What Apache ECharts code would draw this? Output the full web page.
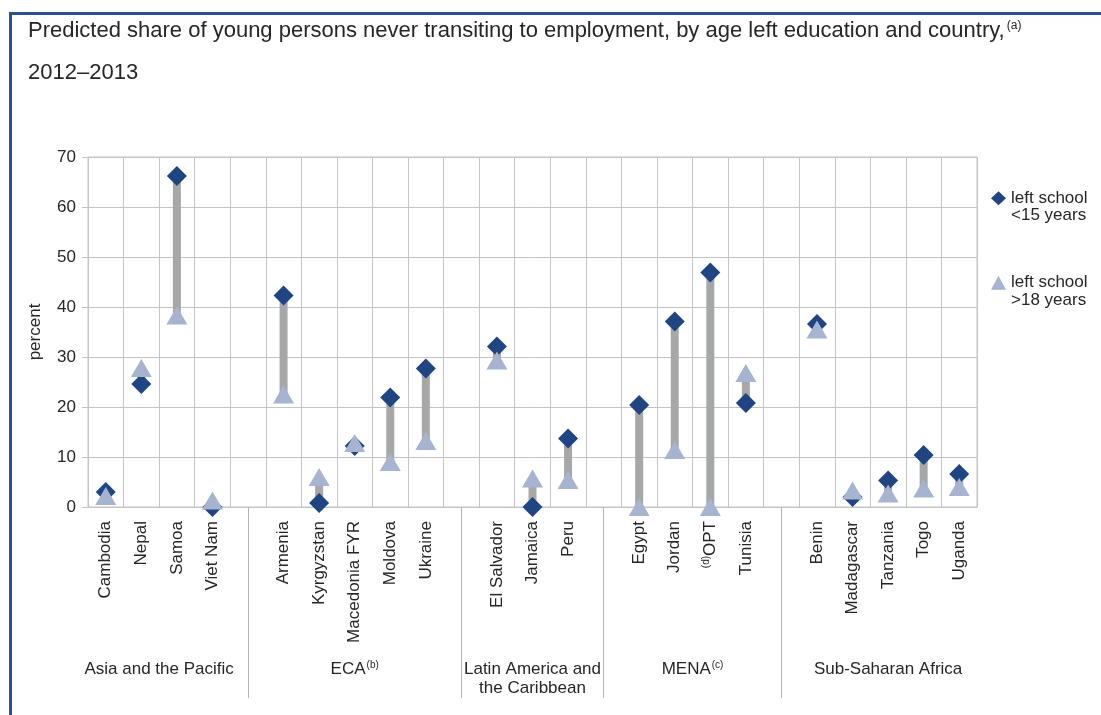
<!DOCTYPE html>
<html>
<head>
<meta charset="utf-8">
<script src="https://cdn.jsdelivr.net/npm/echarts@6/dist/echarts.min.js"></script>
<style>
html,body{margin:0;padding:0;background:#fff;}
#c{width:1101px;height:715px;}
</style>
</head>
<body>
<div id="c"></div>
<script>
// ---- data ----
const categories = ['Cambodia','Nepal','Samoa','Viet Nam','gap1',
  'Armenia','Kyrgyzstan','Macedonia FYR','Moldova','Ukraine','gap2',
  'El Salvador','Jamaica','Peru','gap3',
  'Egypt','Jordan','OPT','Tunisia','gap4',
  'Benin','Madagascar','Tanzania','Togo','Uganda'];
const under15 = [3.0,24.6,66.2,0.0,null, 42.3,0.8,12.2,21.9,27.7,null, 32.1,0.0,13.7,null, 20.4,37.1,46.9,20.8,null, 36.6,2.0,5.3,10.4,6.6];
const over18  = [2.2,27.8,38.3,1.3,null, 22.5,6.0,12.8,9.0,13.2,null, 29.3,5.7,5.4,null, 0.0,11.4,0.0,26.8,null, 35.5,3.3,2.7,3.7,4.0];
const groupNames = ['Asia and the Pacific','ECA{sup|(b)}','Latin America and\nthe Caribbean','MENA{sup|(c)}','Sub-Saharan Africa'];
const groupFirst = [0,5,11,15,20];
const groupLast  = [3,9,13,18,24];
const yTicks = [0,10,20,30,40,50,60,70];
const seriesNames = ['left school\n<15 years','left school\n>18 years'];

const FONT = "'Liberation Sans', Arial, sans-serif";
const TXT = '#262626';
const GRID = '#c4c4c4';

const rangeData = [];
categories.forEach((c,i)=>{ if(under15[i]!=null && over18[i]!=null) rangeData.push([i, under15[i], over18[i]]); });

const chart = echarts.init(document.getElementById('c'));
const option = {
  animation:false,
  backgroundColor:'#fff',
  textStyle:{fontFamily:FONT},
  title:{
    left:28, top:10, padding:0,
    text:'{t|Predicted share of young persons never transiting to employment, by age left education and country,}{sup|(a)}\n{t|2012–2013}',
    textStyle:{
      fontFamily:FONT, fontSize:22, fontWeight:'normal', color:TXT, lineHeight:42,
      rich:{
        t:{fontFamily:FONT,fontSize:22,color:TXT,lineHeight:42,verticalAlign:'middle'},
        sup:{fontFamily:FONT,fontSize:12,color:TXT,verticalAlign:'middle',padding:[0,0,10,2]}
      }
    }
  },
  legend:{
    orient:'vertical', left:991, top:172, padding:0, itemGap:32,
    itemWidth:15, itemHeight:14,
    formatter:n=>'\n'+n,
    data:[{name:seriesNames[0],icon:'diamond'},{name:seriesNames[1],icon:'triangle'}],
    textStyle:{fontFamily:FONT,fontSize:17,color:TXT,lineHeight:17.5}
  },
  grid:{left:88,right:124,top:157,bottom:208,show:true,borderColor:GRID,borderWidth:1},
  xAxis:{
    type:'category', data:categories, boundaryGap:true,
    axisLine:{show:true,lineStyle:{color:GRID}},
    axisTick:{show:true,alignWithLabel:true,length:191,
      interval:(idx,val)=>val.indexOf('gap')===0,
      lineStyle:{color:'#b4b4b4'}},
    splitLine:{show:true,interval:0,lineStyle:{color:GRID}},
    axisLabel:{interval:0,rotate:90,margin:14,fontFamily:FONT,fontSize:17,color:TXT,
      formatter:v=> v.indexOf('gap')===0 ? '' : (v==='OPT' ? '{sup|(d)}OPT' : v),
      rich:{sup:{fontFamily:FONT,fontSize:10,color:TXT,padding:[0,0,8,0]}}}
  },
  yAxis:{
    type:'value', min:0, max:70, interval:10,
    name:'percent', nameLocation:'middle', nameGap:44, nameRotate:90,
    nameTextStyle:{fontFamily:FONT,fontSize:17,color:TXT},
    axisLine:{show:false},
    axisTick:{show:true,length:6,lineStyle:{color:GRID}},
    splitLine:{show:true,lineStyle:{color:GRID}},
    axisLabel:{margin:12,fontFamily:FONT,fontSize:17,color:TXT,
      formatter:v=> yTicks.indexOf(v)>=0 ? String(v) : ''}
  },
  series:[
    {
      type:'custom', name:'range', silent:true, z:1,
      data:rangeData,
      encode:{x:0,y:[1,2]},
      renderItem:(params,api)=>{
        const x = api.value(0);
        const a = api.coord([x, api.value(1)]);
        const b = api.coord([x, api.value(2)]);
        const w = 8;
        return {type:'rect',
          shape:{x:a[0]-w/2, y:Math.min(a[1],b[1]), width:w, height:Math.abs(a[1]-b[1])},
          style:{fill:'#a6a7a9'}};
      }
    },
    {
      type:'scatter', name:seriesNames[0], z:3,
      symbol:'diamond', symbolSize:20,
      itemStyle:{color:'#1f4582',opacity:1},
      data:under15
    },
    {
      type:'scatter', name:seriesNames[1], z:4,
      symbol:'triangle', symbolSize:[21,18],
      itemStyle:{color:'#a6b4d0',opacity:1},
      data:over18
    }
  ]
};
chart.setOption(option);

// frame + group labels (positions derived from the category axis scale)
const graphics = [
  {type:'line',shape:{x1:9,y1:13.5,x2:1101,y2:13.5},style:{stroke:'#2b5191',lineWidth:3},silent:true},
  {type:'line',shape:{x1:10.5,y1:12,x2:10.5,y2:715},style:{stroke:'#2b5191',lineWidth:3},silent:true}
];
groupNames.forEach((g,k)=>{
  const x1 = chart.convertToPixel({xAxisIndex:0}, groupFirst[k]);
  const x2 = chart.convertToPixel({xAxisIndex:0}, groupLast[k]);
  graphics.push({
    type:'text', x:(x1+x2)/2, y:660, silent:true,
    style:{text:g, align:'center', verticalAlign:'top', fontFamily:FONT, fontSize:17, fill:TXT, lineHeight:19,
      rich:{sup:{fontFamily:FONT,fontSize:10,fill:TXT,padding:[0,0,8,1]}}}
  });
});
chart.setOption({graphic:graphics});
</script>
</body>
</html>
